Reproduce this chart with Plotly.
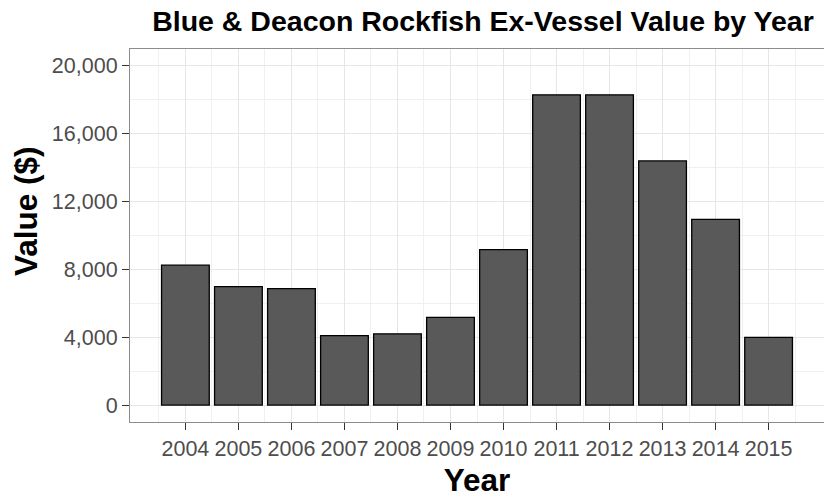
import plotly.graph_objects as go

years = [2004, 2005, 2006, 2007, 2008, 2009, 2010, 2011, 2012, 2013, 2014, 2015]
values = [8250, 6980, 6870, 4090, 4200, 5170, 9170, 18300, 18300, 14400, 10950, 3990]
y_ticks = [0, 4000, 8000, 12000, 16000, 20000]

title_text = "Blue & Deacon Rockfish Ex-Vessel Value by Year"
x_title = "Year"
y_title = "Value ($)"

FONT = "Liberation Sans, Arial, sans-serif"

fig = go.Figure(
    go.Bar(
        x=years,
        y=values,
        width=0.9,
        marker=dict(color="#595959", line=dict(color="#000000", width=1.3)),
        hoverinfo="x+y",
    )
)

grid = "#e6e6e6"
L, R, T, B, W, H = 130, 0, 49, 78, 824, 500
fig.update_layout(
    width=W,
    height=H,
    margin=dict(l=L, r=R, t=T, b=B),
    paper_bgcolor="white",
    plot_bgcolor="white",
    showlegend=False,
    font=dict(family=FONT, color="#000000"),
    title=dict(
        text="<b>" + title_text + "</b>",
        font=dict(family=FONT, size=28.5, color="#000000"),
        xref="container", x=483 / W, xanchor="center",
        yref="container", y=1 - 21 / H, yanchor="middle",
    ),
    annotations=[
        dict(
            text="<b>" + y_title + "</b>",
            textangle=-90,
            xref="paper", yref="paper",
            x=(26 - L) / (W - L - R), y=(H - B - 211) / (H - T - B),
            xanchor="center", yanchor="middle",
            showarrow=False,
            font=dict(family=FONT, size=31.5, color="#000000"),
        )
    ],
)

fig.update_xaxes(
    range=[2002.955, 2016.045],
    tickmode="array",
    tickvals=years,
    ticktext=[str(y) for y in years],
    ticks="outside", ticklen=7, tickwidth=1, tickcolor="#333333",
    tickfont=dict(family=FONT, size=21.5, color="#4d4d4d"),
    showgrid=True, gridcolor=grid, gridwidth=1.2,
    minor=dict(tick0=2003.5, dtick=1, showgrid=True, gridcolor="#f0f0f0", gridwidth=0.7, ticks=""),
    showline=True, linecolor="#8c8c8c", linewidth=1.2, mirror=True,
    zeroline=False,
    title=dict(text="<b>" + x_title + "</b>", font=dict(family=FONT, size=31.5, color="#000000"), standoff=9),
)

fig.update_yaxes(
    range=[-1000, 21000],
    tickmode="array",
    tickvals=y_ticks,
    tickformat=",d",
    ticks="outside", ticklen=7, tickwidth=1, tickcolor="#333333",
    tickfont=dict(family=FONT, size=21.5, color="#4d4d4d"),
    showgrid=True, gridcolor=grid, gridwidth=1.2,
    minor=dict(tick0=2000, dtick=4000, showgrid=True, gridcolor="#f0f0f0", gridwidth=0.7, ticks=""),
    showline=True, linecolor="#8c8c8c", linewidth=1.2, mirror=True,
    zeroline=False,
)

fig.write_html(
    "out.html",
    config={"displayModeBar": False},
    post_script="document.body.style.margin='0';document.body.style.padding='0';document.body.style.overflow='hidden';",
)
